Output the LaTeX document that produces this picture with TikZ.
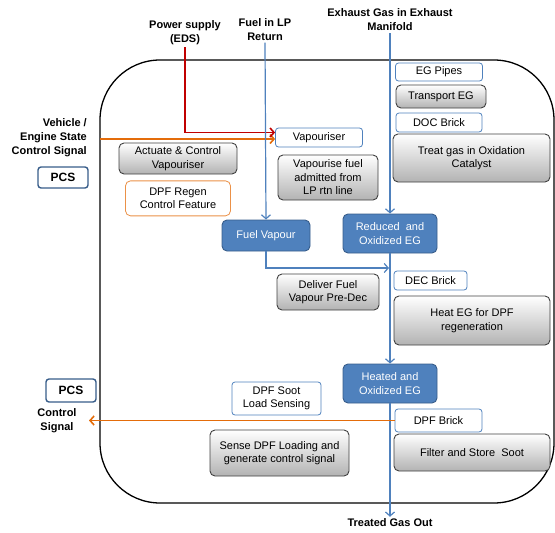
\documentclass[tikz,border=0pt]{standalone}
\usepackage{fontspec}
\setmainfont{Liberation Sans}
\usepackage{xcolor}
\definecolor{pcsblue}{RGB}{56,93,138}
\definecolor{flowblue}{RGB}{79,129,189}
\definecolor{sigorange}{RGB}{228,108,10}
\definecolor{pwrred}{RGB}{192,0,0}
\usepackage{tikz}
\usetikzlibrary{arrows.meta, positioning}

\begin{document}
\begin{tikzpicture}[
  x=1pt, y=-1pt,
  every node/.style={font=\fontsize{11}{13.5}\selectfont, align=center, inner sep=2pt},
  task/.style={rectangle, rounded corners=5pt, draw=black!75, top color=white,
               bottom color=black!30, line width=0.9pt},
  part/.style={rectangle, rounded corners=3pt, draw=flowblue, fill=white,
               line width=0.8pt},
  egstate/.style={rectangle, rounded corners=5pt, draw=pcsblue, fill=flowblue,
                  text=white, line width=0.9pt},
  feat/.style={rectangle, rounded corners=5pt, draw=sigorange!75, fill=white,
               line width=0.8pt},
  pcs/.style={rectangle, rounded corners=3pt, draw=pcsblue, fill=white,
              line width=1.4pt, font=\fontsize{12}{14}\selectfont\bfseries},
  title/.style={font=\fontsize{11}{14}\selectfont\bfseries},
  flow/.style={-{Straight Barb[length=4pt,width=9pt]}, draw=flowblue, line width=1.2pt},
  sig/.style={-{Straight Barb[length=4pt,width=9pt]}, draw=sigorange, line width=1.6pt},
  pwr/.style={-{Straight Barb[length=4pt,width=9pt]}, draw=pwrred, line width=1.6pt},
]
\useasboundingbox (0,0) rectangle (555,533);

% System boundary
\draw[line width=1.3pt, rounded corners=60pt] (100,60) rectangle (554,503);

% Inputs and outputs
\node[title] (pwrin) at (185,33) {Power supply\\(EDS)};
\node[title] (fuelin) at (265,29.5) {Fuel in LP\\Return};
\node[title] (exhin) at (390,20) {Exhaust Gas in Exhaust\\Manifold};
\node[title, align=right, anchor=east] (veh) at (89,138) {Vehicle /\\Engine State\\Control Signal};
\node[pcs, minimum width=50pt, minimum height=21pt] (pcsin) at (63,177.5) {PCS};
\node[pcs, minimum width=50pt, minimum height=23pt] (pcsout) at (71,390.5) {PCS};
\node[title] (ctrl) at (57,420.5) {Control\\Signal};
\node[title] (out) at (390,523) {Treated Gas Out};
\coordinate (vin) at (100,139);
\coordinate (sigout) at (89,420.5);
\coordinate (mix) at (389,268);

% Vapouriser side
\node[task, minimum width=118pt, minimum height=31pt] (act) at (178,158.5) {Actuate \& Control\\Vapouriser};
\node[feat, minimum width=105pt, minimum height=35pt, below=6pt of act] (regen) {DPF Regen\\Control Feature};
\node[part, minimum width=87pt, minimum height=19pt] (vap) at (319,137.5) {Vapouriser};
\node[task, minimum width=100pt, minimum height=45pt] (vapfuel) at (328,177.5) {Vapourise fuel\\admitted from\\LP rtn line};
\node[egstate, minimum width=88pt, minimum height=31pt] (fv) at (266,235.5) {Fuel Vapour};
\node[task, minimum width=102pt, minimum height=36pt] (deliver) at (328,292) {Deliver Fuel\\Vapour Pre-Dec};

% Exhaust side
\node[part, minimum width=87pt, minimum height=18pt] (pipes) at (439,72) {EG Pipes};
\node[task, minimum width=90pt, minimum height=23pt] (transport) at (441,96.5) {Transport EG};
\node[part, minimum width=86pt, minimum height=19pt] (doc) at (439,122.5) {DOC Brick};
\node[task, minimum width=157pt, minimum height=48pt] (treat) at (471.5,158) {Treat gas in Oxidation\\Catalyst};
\node[egstate, minimum width=94pt, minimum height=39pt] (rox) at (390,233.5) {Reduced\ \ and\\Oxidized EG};
\node[part, minimum width=73pt, minimum height=19pt] (dec) at (430.5,280.5) {DEC Brick};
\node[task, minimum width=156pt, minimum height=49pt] (heat) at (472,320.5) {Heat EG for DPF\\regeneration};
\node[egstate, minimum width=94pt, minimum height=39pt] (hox) at (390,383.5) {Heated and\\Oxidized EG};
\node[part, minimum width=89pt, minimum height=33pt] (soot) at (276.5,398.5) {DPF Soot\\Load Sensing};
\node[task, minimum width=139pt, minimum height=46pt] (sense) at (279.5,453) {Sense DPF Loading and\\generate control signal};
\node[part, minimum width=87pt, minimum height=23pt] (dpf) at (438.5,420.5) {DPF Brick};
\node[task, minimum width=156pt, minimum height=37pt] (filter) at (472,452.5) {Filter and Store\ \ Soot};

% Flows
\draw[sig] (vin) -- (vin -| vap.west);
\draw[pwr] (pwrin.south) |- ([yshift=5pt]vap.west);
\draw[flow] (fuelin.south) -- (fv.north);
\draw[flow] (fv.south) |- (mix);
\draw[flow] (exhin.south) -- (rox.north);
\draw[flow] (rox.south) -- (hox.north);
\draw[flow] (hox.south) -- (out.north);
\draw[sig] (dpf.west) -- (sigout);

\end{tikzpicture}
\end{document}
